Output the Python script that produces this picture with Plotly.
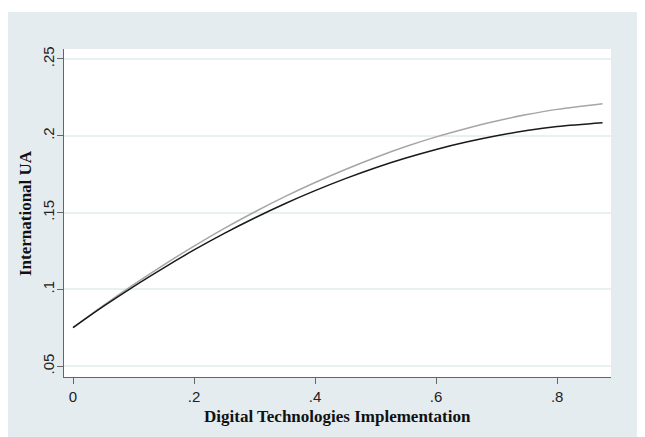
import plotly.graph_objects as go

# Data
x_vals = [0, 0.05, 0.1, 0.15, 0.2, 0.25, 0.3, 0.35, 0.4, 0.45, 0.5, 0.55, 0.6, 0.65, 0.7, 0.75, 0.8, 0.875]
black_line = [0.0751, 0.0889, 0.1019, 0.1141, 0.1257, 0.1365, 0.1465, 0.1558, 0.1643, 0.1721,
              0.1792, 0.1855, 0.1911, 0.1959, 0.2000, 0.2034, 0.2060, 0.2085]
gray_line = [0.0751, 0.0895, 0.1031, 0.1160, 0.1282, 0.1397, 0.1504, 0.1604, 0.1696, 0.1781,
             0.1859, 0.1930, 0.1993, 0.2048, 0.2097, 0.2138, 0.2172, 0.2209]

x_ticks = [0, 0.2, 0.4, 0.6, 0.8]
x_tick_labels = ["0", ".2", ".4", ".6", ".8"]
y_ticks = [0.05, 0.1, 0.15, 0.2, 0.25]
y_tick_labels = [".05", ".1", ".15", ".2", ".25"]

x_title = "Digital Technologies Implementation"
y_title = "International UA"

BG = "#e4ecf0"
TITLE_FONT = dict(family="Liberation Serif, Times New Roman, serif", size=17, color="#111111")

fig = go.Figure()
fig.add_trace(go.Scatter(x=x_vals, y=gray_line, mode="lines", line=dict(color="#a6a6a6", width=1.5, shape="spline"),
                         showlegend=False, hoverinfo="skip"))
fig.add_trace(go.Scatter(x=x_vals, y=black_line, mode="lines", line=dict(color="#1a1a1a", width=1.5, shape="spline"),
                         showlegend=False, hoverinfo="skip"))

# thin white strip at the top edge of the image
fig.add_shape(type="rect", xref="paper", yref="paper", x0=-0.3, x1=1.3, y0=1.1128, y1=1.3,
              fillcolor="white", line=dict(width=0), layer="below")

fig.add_annotation(text="<b>" + x_title + "</b>", xref="paper", yref="paper", x=0.5, y=-0.12,
                   xanchor="center", yanchor="middle", showarrow=False, font=TITLE_FONT)
fig.add_annotation(text="<b>" + y_title + "</b>", xref="paper", yref="paper", x=-0.0713, y=0.5,
                   xanchor="center", yanchor="middle", textangle=-90, showarrow=False, font=TITLE_FONT)

fig.update_layout(
    width=645, height=437,
    margin=dict(l=56, r=42, t=41, b=68, autoexpand=False),
    paper_bgcolor=BG,
    plot_bgcolor="white",
    font=dict(family="Liberation Sans, Arial, sans-serif", color="#222222"),
    xaxis=dict(
        range=[-0.0149, 0.889], automargin=False,
        tickmode="array", tickvals=x_ticks, ticktext=x_tick_labels,
        showgrid=False, zeroline=False,
        showline=True, linecolor="#666666", linewidth=1,
        ticks="outside", ticklen=6, tickcolor="#666666",
        tickfont=dict(size=15, color="#222222"),
    ),
    yaxis=dict(
        range=[0.0430, 0.2565], automargin=False,
        tickmode="array", tickvals=y_ticks, ticktext=y_tick_labels,
        showgrid=True, gridcolor="#e8f0f2", gridwidth=1.5,
        zeroline=False,
        showline=True, linecolor="#666666", linewidth=1,
        ticks="outside", ticklen=6, tickcolor="#666666",
        tickangle=-90, ticklabelstandoff=-3,
        tickfont=dict(size=15, color="#222222"),
    ),
)

fig.write_html("out.html")
